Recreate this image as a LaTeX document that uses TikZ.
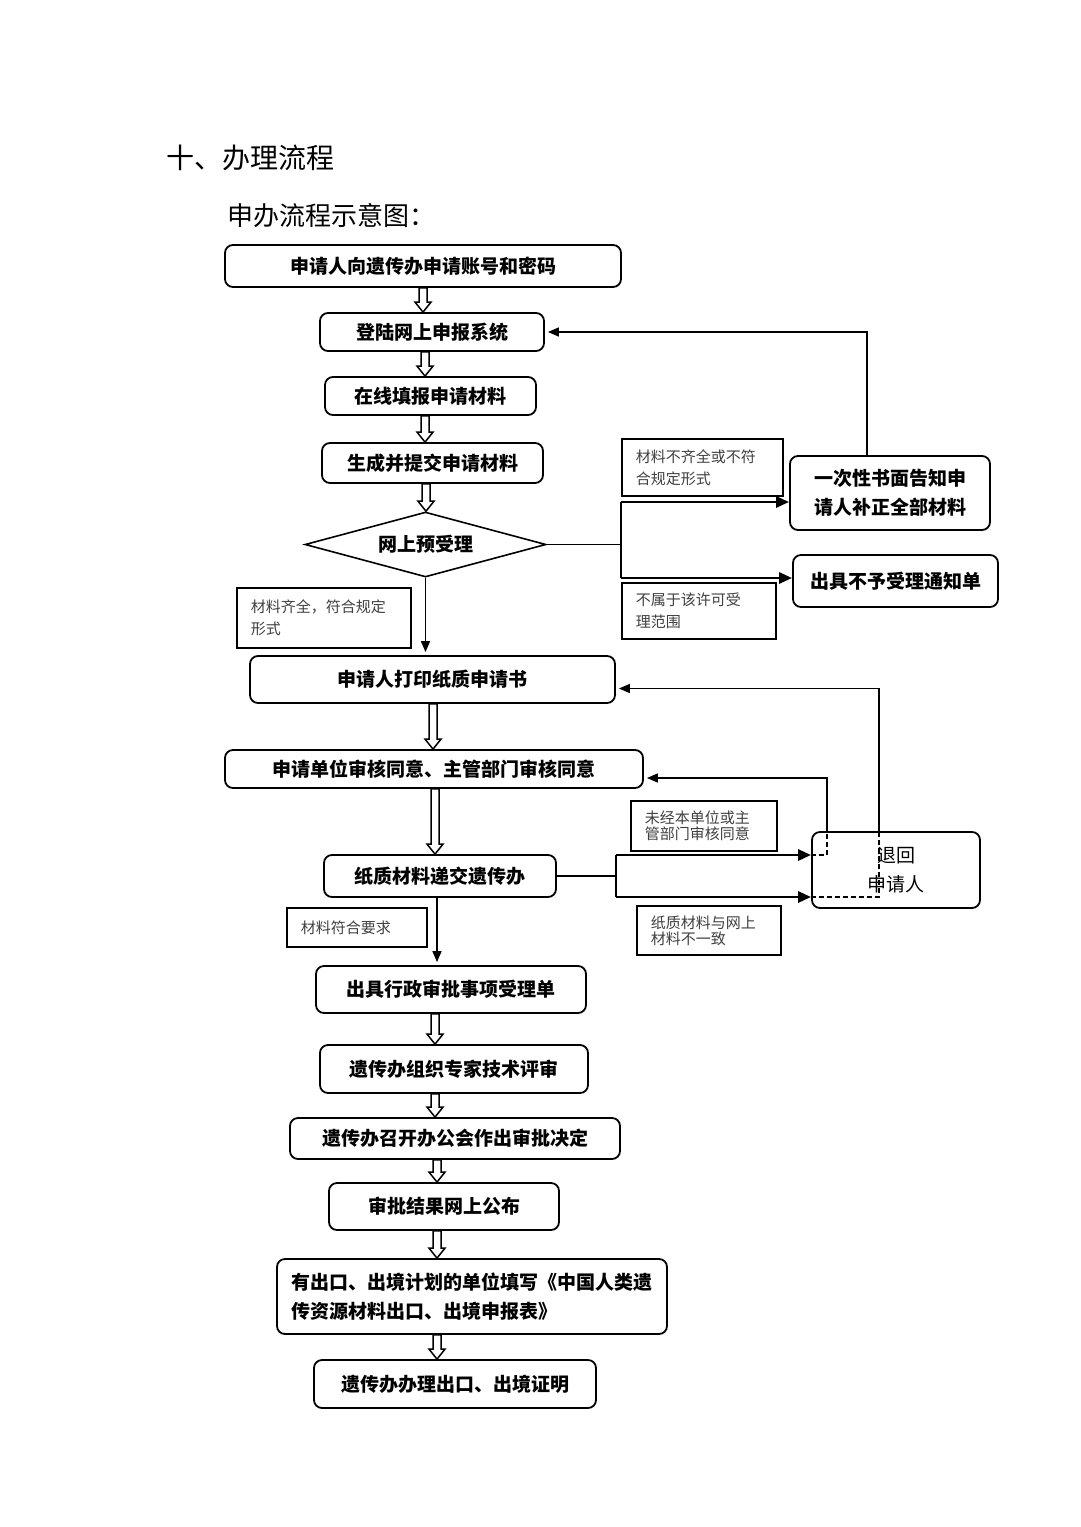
\documentclass[tikz,border=0pt]{standalone}
\usepackage{fontspec}
\newfontfamily\cjk{Noto Sans CJK SC}
\usetikzlibrary{positioning,shapes.geometric,arrows.meta,calc}
\newcommand{\hollowdown}[3]{%
  \draw[hol] let \p1=(#2.south), \p2=(#3.north) in
    (#1pt-4pt,\y1) -- (#1pt-4pt,\y2+10pt) -- (#1pt-8pt,\y2+10pt) -- (#1pt,\y2)
    -- (#1pt+8pt,\y2+10pt) -- (#1pt+4pt,\y2+10pt) -- (#1pt+4pt,\y1) -- cycle;}
\begin{document}
\begin{tikzpicture}[x=1pt,y=-1pt]
    \tikzset{
    box/.style={draw,rounded corners=8pt,line width=1.8pt,inner sep=2pt,align=center,font=\cjk\bfseries\fontsize{19}{29}\selectfont},
    lbl/.style={draw,line width=1.6pt,anchor=north west,inner xsep=14pt,inner ysep=0pt,align=left,text=black!75,font=\cjk\fontsize{15}{22}\selectfont},
    dia/.style={diamond,draw,line width=1.6pt,aspect=3.7,inner sep=0pt,font=\cjk\bfseries\fontsize{19}{23}\selectfont},
    ln/.style={line width=1.5pt},
    arr/.style={ln,-{Triangle[length=11pt,width=9pt]},shorten >=3pt},
    fat/.style={line width=2.8pt,-{Triangle[length=13pt,width=11pt]}},
    dsh/.style={line width=1.5pt,dash pattern=on 5pt off 3pt},
    hol/.style={draw,line width=1.5pt,fill=white,line join=miter},
    }
    \useasboundingbox[fill=white] (0,0) rectangle (1080,1527);

    \node[anchor=west,font=\cjk\fontsize{28}{34}\selectfont] (title) at (163,158) {十、办理流程};
    \node[anchor=west,font=\cjk\fontsize{26}{32}\selectfont] (sub) at (224,216) {申办流程示意图：};

    \node[box,minimum width=396,minimum height=42] (apply) at (423,266) {申请人向遗传办申请账号和密码};
    \node[box,minimum width=224,minimum height=38] (login) at (432,332) {登陆网上申报系统};
    \node[box,minimum width=211,minimum height=38] (fill) at (430.5,396) {在线填报申请材料};
    \node[box,minimum width=221,minimum height=40] (submit) at (432.5,463) {生成并提交申请材料};
    \node[dia,minimum width=241,minimum height=65] (pre) at (425.5,544.5) {网上预受理};
    \node[lbl,minimum height=60,text width=146] (ok1) at (236,587) {材料齐全，符合规定\\形式};
    \node[box,minimum width=365,minimum height=47] (print) at (432.5,679.5) {申请人打印纸质申请书};
    \node[box,minimum width=418,minimum height=38] (audit) at (434,769) {申请单位审核同意、主管部门审核同意};
    \node[box,minimum width=232,minimum height=42] (paper) at (440,876) {纸质材料递交遗传办};
    \node[lbl,minimum height=39,text width=112] (ok2) at (286,907) {材料符合要求};
    \node[box,minimum width=270,minimum height=47] (issue) at (451,989.5) {出具行政审批事项受理单};
    \node[box,minimum width=268,minimum height=48] (review) at (454,1069) {遗传办组织专家技术评审};
    \node[box,minimum width=330,minimum height=41] (decide) at (455,1138.5) {遗传办召开办公会作出审批决定};
    \node[box,minimum width=230,minimum height=47] (publish) at (444,1206.5) {审批结果网上公布};
    \node[box,minimum width=390,minimum height=75,text width=362,align=left] (form) at (472,1296.5) {有出口、出境计划的单位填写《中国人类遗\\传资源材料出口、出境申报表》};
    \node[box,minimum width=282,minimum height=48] (cert) at (455,1384) {遗传办办理出口、出境证明};

    \node[lbl,minimum height=57,text width=133] (miss) at (621,438) {材料不齐全或不符\\合规定形式};
    \node[box,minimum width=200,minimum height=74] (notice) at (890,493) {一次性书面告知申\\请人补正全部材料};
    \node[box,minimum width=205,minimum height=52] (refuse) at (895.5,581) {出具不予受理通知单};
    \node[lbl,minimum height=56,text width=126] (out) at (621,582) {不属于该许可受\\理范围};
    \node[lbl,minimum height=50,text width=118,font=\cjk\fontsize{15}{16}\selectfont] (unaud) at (630,800) {未经本单位或主\\管部门审核同意};
    \node[box,minimum width=168,minimum height=76,font=\cjk\fontsize{19}{29}\selectfont] (ret) at (896,870) {退回\\申请人};
    \node[lbl,minimum height=49,text width=116,font=\cjk\fontsize{15}{16}\selectfont] (diff) at (636,905) {纸质材料与网上\\材料不一致};

    \hollowdown{423}{apply}{login}
    \hollowdown{425}{login}{fill}
    \hollowdown{425}{fill}{submit}
    \hollowdown{426}{submit}{pre}
    \hollowdown{433}{print}{audit}
    \hollowdown{435}{audit}{paper}
    \hollowdown{435}{issue}{review}
    \hollowdown{435}{review}{decide}
    \hollowdown{437}{decide}{publish}
    \hollowdown{437}{publish}{form}
    \hollowdown{437}{form}{cert}

    \draw[arr] (pre.south) -- (pre.south |- print.north);
    \draw[arr] ([xshift=-3pt]paper.south) -- ([xshift=-3pt]paper.south |- issue.north);

    \coordinate (b1) at (621,502);
    \coordinate (b2) at (621,578);
    \draw[ln] (pre.east) -- (pre.east -| b1);
    \draw[line width=2.8pt] (b1) -- (b2);
    \draw[fat] (b1) -- (b1 -| notice.west);
    \draw[fat] (b2) -- (b2 -| refuse.west);
    \draw[arr] ([xshift=-23pt]notice.north) |- (login.east);

    \coordinate (c1) at (616,855);
    \coordinate (c2) at (616,897);
    \coordinate (d1) at (827,855);
    \coordinate (d2) at (879,897);
    \draw[ln] (paper.east) -- (paper.east -| c1);
    \draw[line width=2.8pt] (c1) -- (c2);
    \draw[fat] (c1) -- (c1 -| ret.west);
    \draw[fat] (c2) -- (c2 -| ret.west);
    \draw[dsh] (c1 -| ret.west) -- (d1) -- (d1 |- ret.north);
    \draw[dsh] (c2 -| ret.west) -- (d2) -- (d2 |- ret.north);
    \draw[arr] (d1 |- ret.north) |- ([yshift=-9pt]audit.east);
    \draw[arr] (d2 |- ret.north) |- ([yshift=-9pt]print.east);
\end{tikzpicture}
\end{document}
